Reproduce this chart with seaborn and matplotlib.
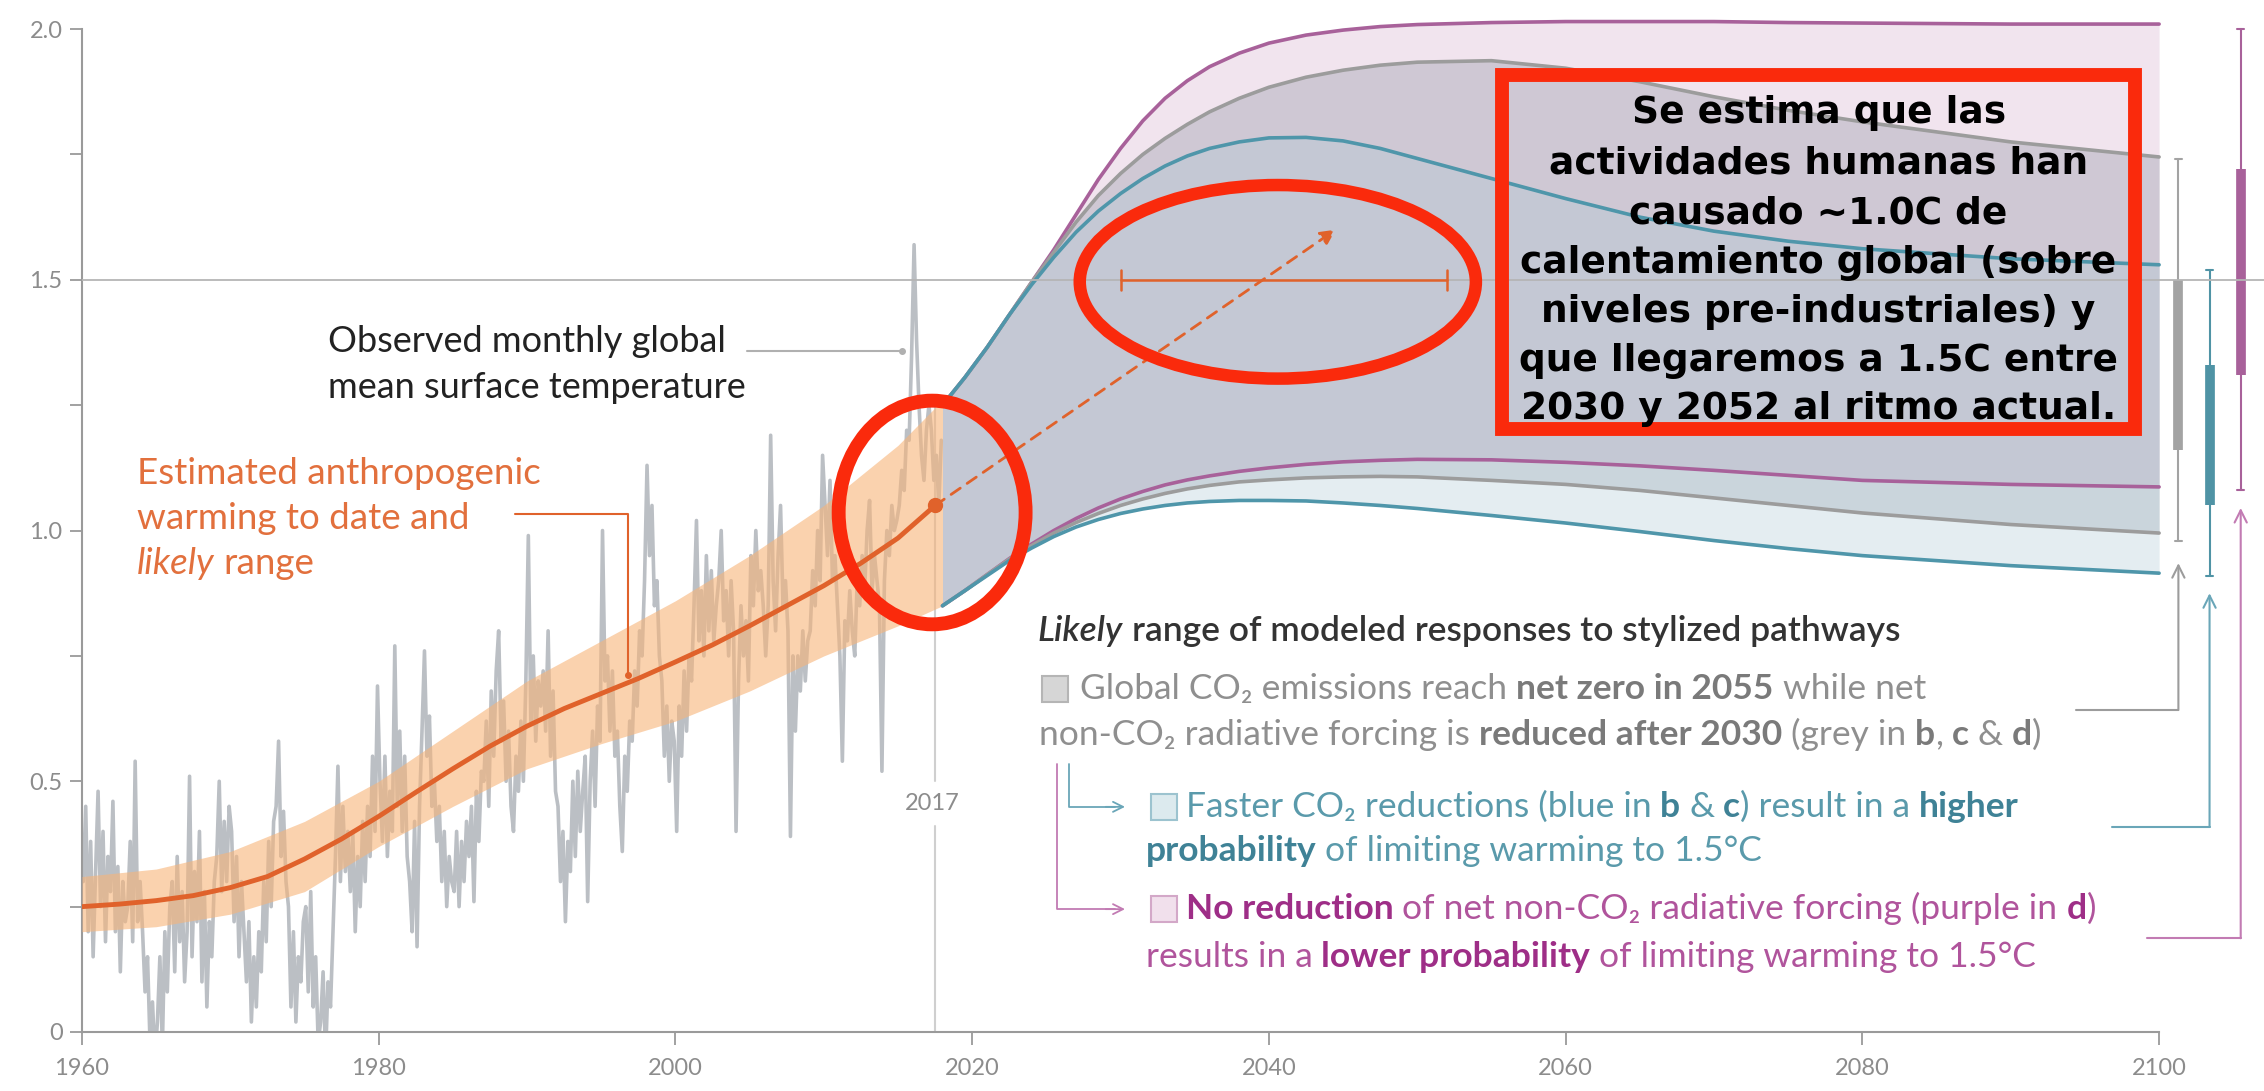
import numpy as np
import pandas as pd
import seaborn as sns
import matplotlib.pyplot as plt
from matplotlib.patches import Ellipse, Rectangle

FAM = ['Lato', 'DejaVu Sans']

# observed monthly GMST (6 samples per year, 1960-2017)
obs_gmst = [
    0.30, 0.45, 0.20, 0.38, 0.15, 0.32,   # 1960
    0.48, 0.25, 0.40, 0.18, 0.35, 0.28,
    0.46, 0.20, 0.33, 0.12, 0.30, 0.22,
    0.25, 0.38, 0.18, 0.54, 0.22, 0.30,
    0.20, 0.08, 0.15, -0.02, 0.06, -0.05,
    0.02, 0.15, -0.03, 0.20, 0.08, 0.25,  # 1965
    0.30, 0.12, 0.35, 0.18, 0.28, 0.10,
    0.20, 0.51, 0.15, 0.32, 0.22, 0.40,
    0.10, 0.28, 0.05, 0.22, 0.15, 0.30,
    0.35, 0.50, 0.28, 0.42, 0.30, 0.45,
    0.40, 0.22, 0.35, 0.15, 0.30, 0.20,   # 1970
    0.10, 0.22, 0.02, 0.15, 0.05, 0.20,
    0.12, 0.30, 0.18, 0.38, 0.25, 0.42,
    0.45, 0.58, 0.35, 0.44, 0.30, 0.25,
    0.05, 0.20, 0.02, 0.15, 0.10, 0.22,
    0.25, 0.08, 0.28, 0.05, 0.15, -0.02,  # 1975
    0.02, 0.12, -0.05, 0.10, 0.05, 0.20,
    0.35, 0.53, 0.30, 0.45, 0.32, 0.40,
    0.28, 0.40, 0.20, 0.35, 0.25, 0.42,
    0.30, 0.45, 0.35, 0.55, 0.40, 0.69,
    0.50, 0.38, 0.55, 0.35, 0.48, 0.40,   # 1980
    0.77, 0.45, 0.60, 0.40, 0.55, 0.35,
    0.30, 0.20, 0.42, 0.17, 0.45, 0.60,
    0.76, 0.55, 0.63, 0.45, 0.50, 0.38,
    0.45, 0.30, 0.40, 0.25, 0.35, 0.30,
    0.28, 0.40, 0.25, 0.38, 0.30, 0.42,   # 1985
    0.35, 0.45, 0.26, 0.48, 0.38, 0.52,
    0.50, 0.62, 0.45, 0.68, 0.55, 0.72,
    0.80, 0.58, 0.66, 0.50, 0.60, 0.45,
    0.40, 0.55, 0.48, 0.62, 0.50, 0.70,
    0.99, 0.62, 0.75, 0.58, 0.70, 0.65,   # 1990
    0.72, 0.60, 0.80, 0.55, 0.68, 0.48,
    0.45, 0.30, 0.40, 0.22, 0.38, 0.32,
    0.50, 0.35, 0.52, 0.40, 0.48, 0.55,
    0.26, 0.50, 0.60, 0.45, 0.65, 0.58,
    1.00, 0.70, 0.75, 0.60, 0.72, 0.55,   # 1995
    0.60, 0.45, 0.36, 0.55, 0.48, 0.62,
    0.58, 0.72, 0.65, 0.80, 0.75, 0.90,
    1.13, 0.95, 1.05, 0.85, 0.90, 0.75,
    0.70, 0.55, 0.65, 0.50, 0.62, 0.58,
    0.40, 0.65, 0.55, 0.72, 0.60, 0.75,   # 2000
    0.70, 0.85, 1.02, 0.78, 0.88, 0.75,
    0.95, 0.80, 0.92, 0.78, 0.85, 0.90,
    1.00, 0.82, 0.88, 0.75, 0.90, 0.80,
    0.40, 0.70, 0.85, 0.75, 0.82, 0.70,
    0.95, 0.85, 1.00, 0.88, 0.92, 0.85,   # 2005
    0.75, 0.85, 1.19, 0.90, 0.80, 0.95,
    1.05, 0.85, 0.90, 0.80, 0.39, 0.75,
    0.60, 0.75, 0.68, 0.80, 0.70, 0.78,
    0.80, 0.92, 0.85, 1.00, 0.90, 1.15,
    1.05, 0.95, 1.10, 0.90, 0.95, 0.85,   # 2010
    0.75, 0.54, 0.82, 0.78, 0.88, 0.80,
    0.75, 0.90, 0.85, 0.95, 0.88, 1.00,
    1.06, 0.88, 0.95, 0.90, 0.85, 0.52,
    0.90, 1.00, 0.95, 1.05, 1.00, 1.02,
    1.05, 1.12, 1.08, 1.20, 1.18, 1.35,   # 2015
    1.57, 1.38, 1.25, 1.15, 1.10, 1.20,
    1.25, 1.20, 1.10, 1.15, 1.05, 1.18,
]
obs_years = 1960 + (np.arange(len(obs_gmst)) + 0.5) / 6

# estimated anthropogenic warming and likely range
ant_years = [1960, 1962.5, 1965, 1967.5, 1970, 1972.5, 1975, 1977.5, 1980, 1982.5, 1985,
             1987.5, 1990, 1992.5, 1995, 1997.5, 2000, 2002.5, 2005, 2007.5, 2010, 2012.5,
             2015, 2017.5]
ant_mid = [0.25, 0.255, 0.262, 0.272, 0.288, 0.31, 0.345, 0.385, 0.43, 0.478, 0.525,
           0.57, 0.61, 0.645, 0.675, 0.705, 0.738, 0.772, 0.81, 0.85, 0.89, 0.935,
           0.985, 1.05]
band_years = [1960, 1965, 1970, 1975, 1980, 1985, 1990, 1995, 2000, 2005, 2010, 2015, 2018]
band_lo = [0.20, 0.21, 0.235, 0.28, 0.37, 0.45, 0.525, 0.575, 0.62, 0.68, 0.75, 0.81, 0.85]
band_hi = [0.31, 0.325, 0.36, 0.42, 0.50, 0.60, 0.70, 0.78, 0.86, 0.95, 1.05, 1.17, 1.26]

# likely range of modelled responses to the stylized pathways
proj_years = [2018, 2019.5, 2021, 2022.5, 2024, 2025.5, 2027, 2028.5, 2030, 2031.5, 2033,
              2034.5, 2036, 2038, 2040, 2042.5, 2045, 2047.5, 2050, 2055, 2060, 2065,
              2070, 2075, 2080, 2090, 2100]
purple_hi = [1.25, 1.305, 1.365, 1.43, 1.495, 1.56, 1.63, 1.70, 1.762, 1.817, 1.862,
             1.897, 1.925, 1.952, 1.972, 1.988, 1.998, 2.005, 2.009, 2.013, 2.015, 2.015,
             2.015, 2.013, 2.012, 2.01, 2.01]
grey_hi = [1.25, 1.305, 1.365, 1.43, 1.495, 1.555, 1.615, 1.668, 1.712, 1.75, 1.782,
           1.81, 1.835, 1.862, 1.884, 1.904, 1.918, 1.928, 1.934, 1.937, 1.922, 1.895,
           1.865, 1.838, 1.815, 1.775, 1.745]
blue_hi = [1.25, 1.305, 1.365, 1.43, 1.49, 1.545, 1.595, 1.637, 1.672, 1.702, 1.727,
           1.747, 1.762, 1.775, 1.783, 1.784, 1.777, 1.762, 1.742, 1.702, 1.662, 1.625,
           1.597, 1.577, 1.562, 1.542, 1.53]
blue_lo = [0.85, 0.88, 0.91, 0.94, 0.965, 0.988, 1.007, 1.022, 1.034, 1.043, 1.05,
           1.055, 1.058, 1.06, 1.06, 1.059, 1.055, 1.05, 1.044, 1.03, 1.015, 0.998,
           0.98, 0.964, 0.95, 0.93, 0.915]
grey_lo = [0.85, 0.88, 0.912, 0.943, 0.97, 0.995, 1.016, 1.034, 1.05, 1.063, 1.074,
           1.083, 1.09, 1.097, 1.101, 1.105, 1.107, 1.108, 1.107, 1.10, 1.092, 1.08,
           1.065, 1.05, 1.035, 1.012, 0.995]
purple_lo = [0.85, 0.88, 0.912, 0.944, 0.973, 1.0, 1.024, 1.045, 1.063, 1.078, 1.091,
             1.101, 1.109, 1.118, 1.125, 1.132, 1.137, 1.14, 1.142, 1.141, 1.136, 1.129,
             1.12, 1.11, 1.10, 1.092, 1.087]

# 2100 ranges (thin = full, thick = likely)
bar_names = ['grey', 'blue', 'purple']
bar_x = [2101.3, 2103.4, 2105.5]
bar_thin = [(0.98, 1.74), (0.91, 1.52), (1.08, 2.0)]
bar_thick = [(1.16, 1.50), (1.05, 1.33), (1.31, 1.72)]

box_lines = ['Se estima que las', 'actividades humanas han', 'causado ~1.0C de',
             'calentamiento global (sobre', 'niveles pre-industriales) y',
             'que llegaremos a 1.5C entre', '2030 y 2052 al ritmo actual.']

C_ORANGE = '#e0622b'
C_GREYL = '#9c9c9c'
C_BLUEL = '#4f96aa'
C_PURPL = '#a8619a'
C_RED = '#fa2a0c'

sns.set_theme(style='white')
plt.rcParams['font.family'] = FAM

fig = plt.figure(figsize=(22.64, 10.91), dpi=100)
ax = fig.add_axes([82 / 2264, 59 / 1091, 1 - 82 / 2264, 1032 / 1091])

# observed series + anthropogenic estimate
sns.lineplot(x=obs_years, y=obs_gmst, color='#bbbfc4', lw=2.6, ax=ax, zorder=2)
ax.fill_between(band_years, band_lo, band_hi, color='#f7b479', alpha=0.6, lw=0, zorder=3)
sns.lineplot(x=ant_years, y=ant_mid, color=C_ORANGE, lw=3.5, ax=ax, zorder=4)
ax.plot([ant_years[-1]], [ant_mid[-1]], 'o', color=C_ORANGE, ms=10, zorder=5)

# projected ranges
ax.fill_between(proj_years, purple_lo, purple_hi, color='#d8b4d0', alpha=0.35, lw=0, zorder=2)
ax.fill_between(proj_years, grey_lo, grey_hi, color='#838a98', alpha=0.3, lw=0, zorder=2)
ax.fill_between(proj_years, blue_lo, blue_hi, color='#aecbd6', alpha=0.33, lw=0, zorder=2)
for lo, hi, c in [(purple_lo, purple_hi, C_PURPL), (grey_lo, grey_hi, C_GREYL),
                  (blue_lo, blue_hi, C_BLUEL)]:
    sns.lineplot(x=proj_years, y=hi, color=c, lw=2.6, ax=ax, zorder=3)
    sns.lineplot(x=proj_years, y=lo, color=c, lw=2.6, ax=ax, zorder=3)

# 1.5 line and 2017 marker
ax.axhline(1.5, color='#b5b5b5', lw=1.3, zorder=6)
ax.plot([2017.5, 2017.5], [0, 0.41], color='#cfcfcf', lw=1.5, zorder=1)
ax.plot([2017.5, 2017.5], [0.50, 1.25], color='#cfcfcf', lw=1.5, zorder=1)
ax.text(2017.3, 0.455, '2017', ha='center', va='center', fontsize=17, color='#8c8c8c')

# dashed projection arrow and 2030-2052 range
ax.annotate('', xy=(2044.5, 1.60), xytext=(2017.5, 1.05),
            arrowprops=dict(arrowstyle='-|>', color=C_ORANGE, lw=2, ls=(0, (4, 3)),
                            mutation_scale=22, shrinkA=0, shrinkB=0), zorder=7)
ax.plot([2030, 2052], [1.5, 1.5], color=C_ORANGE, lw=1.8, zorder=7)
ax.plot([2030, 2030], [1.48, 1.52], color=C_ORANGE, lw=1.8, zorder=7)
ax.plot([2052, 2052], [1.48, 1.52], color=C_ORANGE, lw=1.8, zorder=7)

# range bars at 2100
bar_col = {'grey': '#a3a3a3', 'blue': '#4f93a5', 'purple': '#a8619a'}
for name, x, (t0, t1), (k0, k1) in zip(bar_names, bar_x, bar_thin, bar_thick):
    c = bar_col[name]
    ax.plot([x, x], [t0, t1], color=c, lw=1.5, zorder=5, clip_on=False)
    ax.plot([x - 0.25, x + 0.25], [t0, t0], color=c, lw=1.5, zorder=5, clip_on=False)
    ax.plot([x - 0.25, x + 0.25], [t1, t1], color=c, lw=1.5, zorder=5, clip_on=False)
    ax.plot([x, x], [k0, k1], color=c, lw=7, solid_capstyle='butt', zorder=5, clip_on=False)

# connectors from the legend text to the bars
conn = [(2094.4, 0.642, bar_x[0], 0.935, '#9c9c9c'),
        (2096.8, 0.409, bar_x[1], 0.875, '#6aa6b8'),
        (2099.2, 0.187, bar_x[2], 1.045, '#c27bb3')]
for x0, y0, xb, tip, c in conn:
    ax.plot([x0, xb], [y0, y0], color=c, lw=1.5, zorder=5, clip_on=False)
    ax.annotate('', xy=(xb, tip), xytext=(xb, y0),
                arrowprops=dict(arrowstyle='->', color=c, lw=1.5, mutation_scale=22,
                                shrinkA=0, shrinkB=0), zorder=5)

# annotations on the left
ax.text(1976.6, 1.376, 'Observed monthly global', fontsize=26, color='#222222', va='center')
ax.text(1976.6, 1.286, 'mean surface temperature', fontsize=26, color='#222222', va='center')
ax.plot([2004.8, 2015.3], [1.358, 1.358], color='#b0b0b0', lw=1.5, zorder=6)
ax.plot([2015.3], [1.358], 'o', color='#b0b0b0', ms=4, zorder=6)


def rich(x, y, parts, size):
    t = None
    prev = ''
    for s, color, weight, style in parts:
        kw = dict(color=color, fontweight=weight, fontstyle=style, fontsize=size, family=FAM)
        gap = size * 0.25 if (prev.endswith(' ') or s.startswith(' ')) else 0
        if t is None:
            t = ax.text(x, y, s.strip(), ha='left', va='center', zorder=8, **kw)
        else:
            t = ax.annotate(s.strip(), xy=(1, 0), xycoords=t, xytext=(gap, 0),
                            textcoords='offset points', ha='left', va='bottom', zorder=8, **kw)
        prev = s
    return t


C_OT = '#e2703d'
ax.text(1963.7, 1.114, 'Estimated anthropogenic', fontsize=26.5, color=C_OT, va='center')
ax.text(1963.7, 1.024, 'warming to date and', fontsize=26.5, color=C_OT, va='center')
rich(1963.7, 0.935, [('likely', C_OT, 'normal', 'italic'), (' range', C_OT, 'normal', 'normal')], 26.5)
ax.plot([1989.2, 1996.8, 1996.8], [1.033, 1.033, 0.711], color=C_ORANGE, lw=1.5, zorder=6)
ax.plot([1996.8], [0.711], 'o', color=C_ORANGE, ms=4, zorder=6)

# legend block
FS = 25.5
rich(2024.4, 0.80, [('Likely', '#333333', 'semibold', 'italic'),
                    (' range of modeled responses to stylized pathways', '#333333', 'semibold', 'normal')], FS)

G, GB = '#8f8f8f', '#7a7a7a'
B, BB = '#5a9aab', '#3f8296'
P, PB = '#b0549c', '#9e2e87'
ax.plot([2025.6], [0.685], 's', ms=19, mfc='#d6d6d6', mec='#b5b5b5', mew=1.5, zorder=8, clip_on=False)
rich(2027.3, 0.685, [('Global CO₂ emissions reach ', G, 'normal', 'normal'),
                     ('net zero in 2055', GB, 'bold', 'normal'),
                     (' while net', G, 'normal', 'normal')], FS)
rich(2024.5, 0.593, [('non-CO₂ radiative forcing is ', G, 'normal', 'normal'),
                     ('reduced after 2030', GB, 'bold', 'normal'),
                     (' (grey in ', G, 'normal', 'normal'), ('b', GB, 'bold', 'normal'),
                     (',', G, 'normal', 'normal'), (' c', GB, 'bold', 'normal'),
                     (' &', G, 'normal', 'normal'), (' d', GB, 'bold', 'normal'),
                     (')', G, 'normal', 'normal')], FS)

ax.plot([2032.9], [0.449], 's', ms=19, mfc='#dceaee', mec='#9cc3cf', mew=1.5, zorder=8)
rich(2034.4, 0.449, [('Faster CO₂ reductions (blue in ', B, 'normal', 'normal'),
                     ('b', BB, 'bold', 'normal'), (' &', B, 'normal', 'normal'),
                     (' c', BB, 'bold', 'normal'), (') result in a ', B, 'normal', 'normal'),
                     ('higher', BB, 'bold', 'normal')], FS)
rich(2031.7, 0.36, [('probability', BB, 'bold', 'normal'),
                    (' of limiting warming to 1.5°C', B, 'normal', 'normal')], FS)

ax.plot([2032.9], [0.245], 's', ms=19, mfc='#f1e0ec', mec='#d3a8c8', mew=1.5, zorder=8)
rich(2034.4, 0.245, [('No reduction', PB, 'bold', 'normal'),
                     (' of net non-CO₂ radiative forcing (purple in ', P, 'normal', 'normal'),
                     ('d', PB, 'bold', 'normal'), (')', P, 'normal', 'normal')], FS)
rich(2031.7, 0.15, [('results in a ', P, 'normal', 'normal'),
                    ('lower probability', PB, 'bold', 'normal'),
                    (' of limiting warming to 1.5°C', P, 'normal', 'normal')], FS)

# little bent arrows in the legend
ax.plot([2026.5, 2026.5, 2029.6], [0.535, 0.449, 0.449], color='#6aa6b8', lw=1.3, zorder=8)
ax.annotate('', xy=(2030.3, 0.449), xytext=(2029.0, 0.449),
            arrowprops=dict(arrowstyle='->', color='#6aa6b8', lw=1.3, mutation_scale=18,
                            shrinkA=0, shrinkB=0))
ax.plot([2025.7, 2025.7, 2029.6], [0.535, 0.245, 0.245], color='#c27bb3', lw=1.3, zorder=8)
ax.annotate('', xy=(2030.3, 0.245), xytext=(2029.0, 0.245),
            arrowprops=dict(arrowstyle='->', color='#c27bb3', lw=1.3, mutation_scale=18,
                            shrinkA=0, shrinkB=0))

# red overlay marks
ax.add_patch(Ellipse((2017.3, 1.036), 12.6, 0.446, fill=False, ec=C_RED, lw=10, zorder=9))
ax.add_patch(Ellipse((2040.6, 1.496), 26.7, 0.386, fill=False, ec=C_RED, lw=9, zorder=9))
ax.add_patch(Rectangle((2055.7, 1.203), 42.7, 0.705, fill=False, ec=C_RED, lw=10, zorder=9))
box_y = [1.833, 1.732, 1.632, 1.534, 1.436, 1.338, 1.243]
for line, y in zip(box_lines, box_y):
    ax.text(2077.05, y, line, ha='center', va='center', fontsize=27, fontweight='bold',
            family='DejaVu Sans', color='black', zorder=10)

# axes styling
ax.set_xlim(1960, 2107.07)
ax.set_ylim(0, 2.058)
ax.set_xticks(range(1960, 2101, 20))
ax.set_yticks([0, 0.5, 1.0, 1.5, 2.0])
ax.set_yticklabels(['0', '0.5', '1.0', '1.5', '2.0'])
ax.set_yticks([0.25, 0.75, 1.25, 1.75], minor=True)
ax.tick_params(axis='both', which='both', direction='out', length=9, width=1.3,
               color='#9a9a9a', labelcolor='#8c8c8c', labelsize=17, bottom=True, left=True)
ax.tick_params(axis='x', pad=10)
ax.tick_params(axis='y', pad=5)
for s in ['top', 'right']:
    ax.spines[s].set_visible(False)
for s in ['left', 'bottom']:
    ax.spines[s].set_color('#9a9a9a')
    ax.spines[s].set_linewidth(1.5)
ax.spines['left'].set_bounds(0, 2.0)
ax.spines['bottom'].set_bounds(1960, 2100)
ax.set_xlabel('')
ax.set_ylabel('')
ax.grid(False)

plt.savefig('out.png', dpi=100)
